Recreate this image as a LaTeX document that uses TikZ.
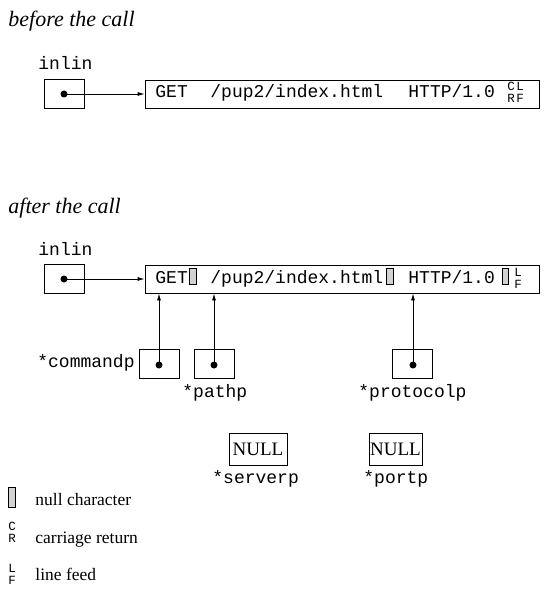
\documentclass[tikz,border=0pt]{standalone}
\usepackage{fontspec}
\setmainfont{Liberation Serif}
\setmonofont{Liberation Mono}
\usetikzlibrary{arrows.meta}
\begin{document}
\begin{tikzpicture}[x=1pt,y=-1pt,line width=0.8pt,
  title/.style={anchor=base west,inner sep=0,font=\fontsize{22}{24}\selectfont\itshape},
  mono/.style={anchor=base west,inner sep=0,font=\fontsize{18}{20}\selectfont\ttfamily},
  tiny/.style={anchor=base west,inner sep=0,text height=8pt,text depth=0pt,font=\fontsize{12.5}{13}\selectfont\ttfamily},
  legend/.style={anchor=base west,inner sep=0,font=\fontsize{17.5}{20}\selectfont},
  ptrbox/.style={draw,minimum width=40pt,minimum height=29pt,inner sep=0},
  strbox/.style={draw,minimum width=394pt,minimum height=28pt,inner sep=0},
  nullbox/.style={draw,inner sep=0,minimum height=32pt,font=\fontsize{19}{20}\selectfont},
  dot/.style={circle,fill,inner sep=0,minimum size=7pt},
  nullch/.style={draw,line width=0.6pt,fill=gray!35},
  arr/.style={-{Latex[length=7pt,width=4pt]}}]
\useasboundingbox (0,0) rectangle (551,601);

% before the call
\node[title] (t1) at (8,27) {before the call};
\node[mono] (in1) at (38,70) {inlin};
\node[ptrbox] (p1) at (64,94) {};
\node[dot] (d1) at (64,94) {};
\node[strbox] (s1) at (342,94) {};
\node[mono] (g1) at (155,98) {GET};
\node[mono] (pa1) at (210,98) {/pup2/index.html};
\node[mono] (h1) at (408,98) {HTTP/1.0};
\node[tiny] (c1) at (507,91) {C};
\node[tiny] (r1) at (507,103) {R};
\node[tiny] (l1) at (516,91) {L};
\node[tiny] (f1) at (516,103) {F};
\draw[arr] (d1.center) -- (s1.west);

% after the call
\node[title] (t2) at (8,214) {after the call};
\node[mono] (in2) at (38,255) {inlin};
\node[ptrbox] (p2) at (64,279) {};
\node[dot] (d2) at (64,279) {};
\node[strbox] (s2) at (342,279) {};
\node[mono] (g2) at (155,283) {GET};
\node[mono] (pa2) at (210,283) {/pup2/index.html};
\node[mono] (h2) at (408,283) {HTTP/1.0};
\draw[nullch] (189,268) rectangle (196,284);
\draw[nullch] (386,268) rectangle (393,284);
\draw[nullch] (502,268) rectangle (508,284);
\node[tiny] (l2) at (514,276) {L};
\node[tiny] (f2) at (514,288) {F};
\draw[arr] (d2.center) -- (s2.west);

% pointers
\node[ptrbox] (pc) at (159,364) {};
\node[dot] (dc) at (159,365) {};
\node[ptrbox] (pp) at (214,364) {};
\node[dot] (dp) at (214,365) {};
\node[ptrbox] (pr) at (412.5,364) {};
\node[dot] (dr) at (413,365) {};
\draw[arr] (dc.center) -- (dc.center |- s2.south);
\draw[arr] (dp.center) -- (dp.center |- s2.south);
\draw[arr] (dr.center) -- (dr.center |- s2.south);
\node[mono,anchor=base east] (lc) at (135,367) {*commandp};
\node[mono] (lp) at (182,397) {*pathp};
\node[mono] (lr) at (358,397) {*protocolp};

% NULL boxes
\node[nullbox,minimum width=58pt] (n1) at (258,449) {NULL};
\node[nullbox,minimum width=53pt] (n2) at (395.5,449) {NULL};
\node[mono] (ls) at (212,483) {*serverp};
\node[mono] (lo) at (363,483) {*portp};

% legend
\draw[nullch] (8,487) rectangle (15,507);
\node[legend] (k1) at (35,505) {null character};
\node[tiny] (kc) at (8,530) {C};
\node[tiny] (kr) at (8,542) {R};
\node[legend] (k2) at (35,543) {carriage return};
\node[tiny] (kl) at (8,572) {L};
\node[tiny] (kf) at (8,584) {F};
\node[legend] (k3) at (35,580) {line feed};
\end{tikzpicture}
\end{document}
